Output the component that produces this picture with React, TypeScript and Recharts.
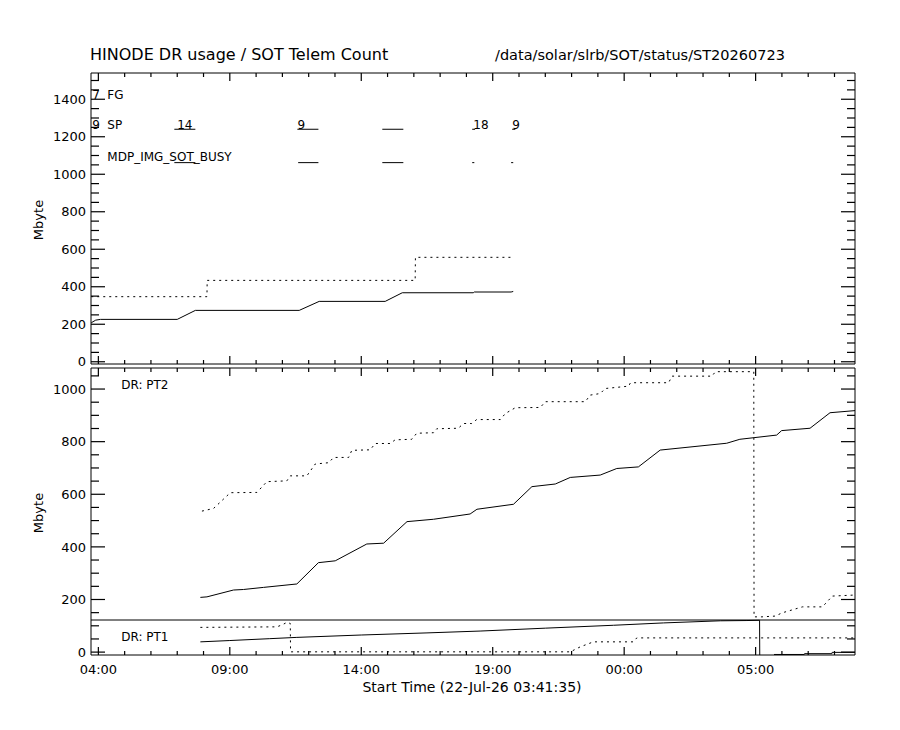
import { LineChart, Line, XAxis, YAxis, ReferenceLine, ReferenceDot } from "recharts";

// time is in hours from 00:00 on 22-Jul-26 (24 = 00:00 on 23-Jul)
const tStart = 3.72;
const tEnd = 32.78;
const majorHours = [4, 9, 14, 19, 24, 29];
const majorHourLabels = ["04:00", "09:00", "14:00", "19:00", "00:00", "05:00"];
const hourTicks = Array.from({ length: 29 }, (_, i) => 4 + i);

const topDomain = [-12, 1540];
const bottomDomain = [-11, 1080];
const topYTicks = Array.from({ length: 31 }, (_, i) => i * 50);
const bottomYTicks = Array.from({ length: 22 }, (_, i) => i * 50);

// SOT telemetry counts (top panel), [hour, Mbyte]
const sotSolid = [
  [3.73, 208], [3.9, 222], [4.08, 226], [7.0, 226], [7.69, 274], [11.64, 274],
  [12.4, 322], [14.91, 322], [15.56, 368], [18.26, 368], [18.3, 372], [19.7, 372],
  [19.78, 375],
];
const sotDotted = [
  [3.73, 347], [8.13, 347], [8.14, 434], [16.05, 434], [16.06, 557], [19.69, 557],
];

// event bars in the top panel, [from, to]
const spBars = [[6.89, 7.69], [11.57, 12.37], [14.8, 15.6], [18.22, 18.33], [19.74, 19.86]];
const busyBars = [[6.89, 7.69], [11.6, 12.37], [14.8, 15.6], [18.22, 18.3], [19.7, 19.78]];
const spLevel = 1240;
const busyLevel = 1062;

// text in the top panel: [hour, Mbyte, text]
const topNotes: [number, number, string][] = [
  [3.77, 1423, "7"], [4.34, 1423, "FG"],
  [3.77, 1265, "9"], [4.34, 1265, "SP"],
  [7.0, 1265, "14"], [11.57, 1265, "9"], [18.26, 1265, "18"], [19.74, 1265, "9"],
  [4.34, 1094, "MDP_IMG_SOT_BUSY"],
];

// data recorder, PT2
const pt2Dotted = [
  [7.94, 536], [8.38, 546], [9.02, 606], [10.03, 607], [10.41, 648], [11.17, 651],
  [11.3, 670], [11.93, 670], [12.25, 715], [12.76, 720], [12.95, 740], [13.52, 740],
  [13.64, 767], [14.34, 769], [14.53, 793], [15.1, 793], [15.29, 807], [15.92, 809],
  [16.11, 832], [16.75, 834], [16.87, 849], [17.69, 851], [17.89, 869], [18.2, 869],
  [18.39, 884], [19.29, 884], [19.48, 907], [19.86, 929], [20.81, 930], [21.0, 952],
  [22.52, 952], [22.71, 977], [23.09, 983], [23.28, 1002], [24.17, 1011], [24.24, 1024],
  [25.69, 1024], [25.82, 1049], [27.34, 1049], [27.47, 1066], [28.93, 1066], [28.94, 134],
  [29.24, 134], [29.75, 137], [30.0, 149], [30.78, 172], [31.54, 172], [31.92, 213],
  [32.78, 217],
];
const pt2Solid = [
  [7.88, 208], [8.13, 210], [9.14, 236], [9.52, 238], [10.28, 246], [11.55, 259],
  [12.37, 340], [13.01, 347], [14.21, 411], [14.85, 414], [15.74, 496], [16.75, 505],
  [18.14, 525], [18.4, 543], [19.79, 562], [20.49, 629], [21.38, 639], [21.95, 664],
  [23.09, 673], [23.72, 698], [24.54, 704], [25.37, 768], [27.9, 794], [28.4, 809],
  [29.8, 825], [29.99, 842], [31.07, 851], [31.83, 910], [32.78, 918],
];

// data recorder, PT1
const pt1Limit = 122;
const pt1Solid = [
  [7.88, 39], [9.0, 44], [10.5, 51], [11.55, 56], [14.0, 65], [16.5, 73], [18.52, 80],
  [21.0, 91], [23.59, 102], [25.5, 111], [27.66, 119], [28.67, 120], [29.15, 121],
  [29.16, -60],
];
const pt1SolidTail = [
  [29.7, -9], [30.85, -9], [30.86, -6], [31.9, -6], [31.91, -1], [32.78, -1],
];
const pt1Dotted = [
  [7.88, 94], [10.79, 96], [11.0, 104], [11.17, 113], [11.3, 109], [11.31, 1],
  [21.95, 1], [22.33, 20], [22.83, 39], [24.35, 39], [24.48, 54], [32.78, 54],
];

const INK = "#000";
const FONT = "'DejaVu Sans', Verdana, sans-serif";
const GAP = 5;
const PLOT_W = 764;
const TOP_H = 291;
const BOTTOM_H = 287;

const pts = (a: number[][]) => a.map(([t, v]) => ({ t, v }));

function hourLabel(h: number) {
  const i = majorHours.indexOf(h);
  return i >= 0 ? majorHourLabels[i] : "";
}

function yLabel(p: any) {
  const v = p.payload.value;
  if (v % 200 !== 0) return <g />;
  return (
    <text x={p.x} y={p.y} dy="0.36em" textAnchor="end" fontSize={13} fontFamily={FONT} fill={INK}>
      {v}
    </text>
  );
}

function xLabel(p: any) {
  const lab = hourLabel(p.payload.value);
  if (!lab) return <g />;
  return (
    <text x={p.x} y={p.y + 14} dy="0.36em" textAnchor="middle" fontSize={13} fontFamily={FONT} fill={INK}>
      {lab}
    </text>
  );
}

// box edges and inward tick marks on all four sides, placed through the chart scales
function frame(domain: number[], yTicks: number[], plotH: number) {
  const [yMin, yMax] = domain;
  const hPerPx = (tEnd - tStart) / PLOT_W;
  const vPerPx = (yMax - yMin) / plotH;
  const out: any[] = [
    <ReferenceLine key="edgeR" ifOverflow="visible" stroke={INK} strokeWidth={1} x={tEnd} />,
    <ReferenceLine key="edgeT" ifOverflow="visible" stroke={INK} strokeWidth={1} y={yMax} />,
  ];
  yTicks.forEach((v) => {
    const len = (v % 200 === 0 ? 14 : 8) * hPerPx;
    out.push(
      <ReferenceLine key={`yl${v}`} ifOverflow="visible" stroke={INK} strokeWidth={1.2} segment={[{ x: tStart, y: v }, { x: tStart + len, y: v }]} />,
      <ReferenceLine key={`yr${v}`} ifOverflow="visible" stroke={INK} strokeWidth={1.2} segment={[{ x: tEnd - len, y: v }, { x: tEnd, y: v }]} />
    );
  });
  hourTicks.forEach((h) => {
    const len = (hourLabel(h) ? 8 : 4) * vPerPx;
    out.push(
      <ReferenceLine key={`xb${h}`} ifOverflow="visible" stroke={INK} strokeWidth={1.2} segment={[{ x: h, y: yMin }, { x: h, y: yMin + len }]} />,
      <ReferenceLine key={`xt${h}`} ifOverflow="visible" stroke={INK} strokeWidth={1.2} segment={[{ x: h, y: yMax - len }, { x: h, y: yMax }]} />
    );
  });
  return out;
}

function Note({ cx, cy, text }: any) {
  return (
    <text x={cx} y={cy} dy="0.36em" fontSize={12} fontFamily={FONT} fill={INK}>
      {text}
    </text>
  );
}

function TopPanel() {
  return (
    <LineChart width={900} height={370} margin={{ top: 73, right: 45, bottom: 1, left: 51 }}>
      <XAxis dataKey="t" type="number" domain={[tStart, tEnd]} allowDataOverflow ticks={hourTicks} interval={0} tickSize={0} tickMargin={0} tickLine={false} height={5} stroke={INK} tick={false} />
      <YAxis type="number" domain={topDomain} allowDataOverflow ticks={topYTicks} interval={0} tickSize={0} tickMargin={GAP} tickLine={false} width={40} stroke={INK} tick={yLabel} />
      {frame(topDomain, topYTicks, TOP_H)}
      {spBars.map(([a, b], i) => (
        <ReferenceLine key={`sp${i}`} segment={[{ x: a, y: spLevel }, { x: b, y: spLevel }]} stroke={INK} />
      ))}
      {busyBars.map(([a, b], i) => (
        <ReferenceLine key={`bz${i}`} segment={[{ x: a, y: busyLevel }, { x: b, y: busyLevel }]} stroke={INK} />
      ))}
      {topNotes.map(([t, v, text], i) => (
        <ReferenceDot key={`n${i}`} x={t} y={v} r={1} shape={(p: any) => <Note {...p} text={text} />} />
      ))}
      <Line data={pts(sotDotted)} dataKey="v" type="linear" stroke={INK} strokeWidth={1} strokeDasharray="2 4" dot={false} activeDot={false} isAnimationActive={false} />
      <Line data={pts(sotSolid)} dataKey="v" type="linear" stroke={INK} strokeWidth={1} dot={false} activeDot={false} isAnimationActive={false} />
    </LineChart>
  );
}

function BottomPanel() {
  return (
    <LineChart width={900} height={370} margin={{ top: 8, right: 45, bottom: 45, left: 51 }}>
      <XAxis dataKey="t" type="number" domain={[tStart, tEnd]} allowDataOverflow ticks={hourTicks} interval={0} tickSize={0} tickMargin={0} tickLine={false} height={30} stroke={INK} tick={xLabel} />
      <YAxis type="number" domain={bottomDomain} allowDataOverflow ticks={bottomYTicks} interval={0} tickSize={0} tickMargin={GAP} tickLine={false} width={40} stroke={INK} tick={yLabel} />
      {frame(bottomDomain, bottomYTicks, BOTTOM_H)}
      <ReferenceLine y={pt1Limit} stroke={INK} />
      <ReferenceDot x={4.87} y={1015} r={1} shape={(p: any) => <Note {...p} text="DR: PT2" />} />
      <ReferenceDot x={4.87} y={57} r={1} shape={(p: any) => <Note {...p} text="DR: PT1" />} />
      <Line data={pts(pt2Dotted)} dataKey="v" type="linear" stroke={INK} strokeWidth={1} strokeDasharray="2 4" dot={false} activeDot={false} isAnimationActive={false} />
      <Line data={pts(pt2Solid)} dataKey="v" type="linear" stroke={INK} strokeWidth={1} dot={false} activeDot={false} isAnimationActive={false} />
      <Line data={pts(pt1Dotted)} dataKey="v" type="linear" stroke={INK} strokeWidth={1} strokeDasharray="2 4" dot={false} activeDot={false} isAnimationActive={false} />
      <Line data={pts(pt1Solid)} dataKey="v" type="linear" stroke={INK} strokeWidth={1} dot={false} activeDot={false} isAnimationActive={false} />
      <Line data={pts(pt1SolidTail)} dataKey="v" type="linear" stroke={INK} strokeWidth={1} dot={false} activeDot={false} isAnimationActive={false} />
    </LineChart>
  );
}

export default function App() {
  return (
    <div style={{ position: "absolute", left: 0, top: 0, width: 900, height: 730, background: "#fff", overflow: "hidden" }}>
      <div style={{ position: "absolute", left: 0, top: 0 }}>
        <TopPanel />
      </div>
      <div style={{ position: "absolute", left: 0, top: 360 }}>
        <BottomPanel />
      </div>
      <svg width={900} height={730} style={{ position: "absolute", left: 0, top: 0, pointerEvents: "none" }}>
        <g fontFamily={FONT} fill={INK}>
          <text x={90} y={60} fontSize={16}>HINODE DR usage / SOT Telem Count</text>
          <text x={495} y={60} fontSize={14.5}>/data/solar/slrb/SOT/status/ST20260723</text>
          <text x={472} y={687} dy="0.36em" fontSize={14} textAnchor="middle">Start Time (22-Jul-26 03:41:35)</text>
          <text transform="translate(38,220) rotate(-90)" dy="0.36em" fontSize={13} textAnchor="middle">Mbyte</text>
          <text transform="translate(38,513) rotate(-90)" dy="0.36em" fontSize={13} textAnchor="middle">Mbyte</text>
        </g>
      </svg>
    </div>
  );
}
